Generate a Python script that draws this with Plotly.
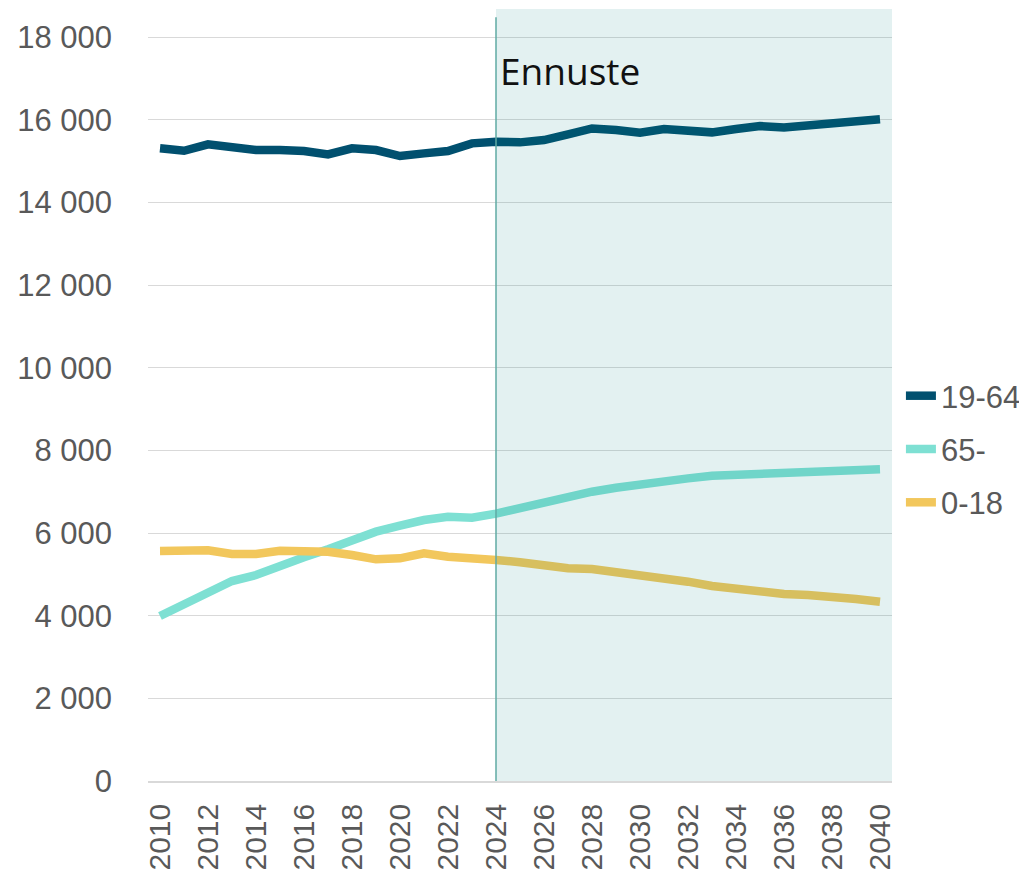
import plotly.graph_objects as go

years = list(range(2010, 2041))
age_19_64 = [15309, 15250, 15405, 15333, 15267, 15267, 15243, 15163, 15309, 15267,
             15122, 15187, 15243, 15429, 15469, 15453, 15509, 15645, 15790, 15751,
             15686, 15775, 15751, 15695, 15775, 15848, 15815, 15864, 15864, 15953, 16010]
age_65 = [3992, 4275, 4565, 4839, 4984, 5210, 5412, 5606, 5815, 6033,
          6178, 6315, 6396, 6371, 6470, 6600, 6734, 6896, 7000, 7097,
          7186, 7259, 7323, 7388, 7404, 7444, 7468, 7468, 7484, 7509, 7541]
age_0_18 = [5565, 5573, 5581, 5492, 5492, 5573, 5573, 5549, 5468, 5364,
            5388, 5509, 5428, 5364, 5347, 5295, 5210, 5146, 5129, 5065,
            5000, 4904, 4823, 4718, 4638, 4556, 4524, 4500, 4476, 4403, 4338]
forecast_start = 2024
forecast_label = "Ennuste"
x_ticks = list(range(2010, 2041, 2))
y_ticks = list(range(0, 18001, 2000))

series = [
    ("19-64", age_19_64, "#01506F"),
    ("65-", age_65, "#7EE0D3"),
    ("0-18", age_0_18, "#F2C75C"),
]

SANS = "Liberation Sans, Arial, sans-serif"

fig = go.Figure()
for name, vals, col in series:
    fig.add_trace(go.Scatter(x=years, y=vals, name=name, mode="lines", legendgroup=name,
                             line=dict(color=col, width=8.5)))

# forecast shaded region (drawn above lines, translucent)
fig.add_shape(type="rect", xref="x", yref="paper", x0=forecast_start, x1=2040.5,
              y0=0, y1=1, fillcolor="rgba(0,128,128,0.11)", line_width=0, layer="above")
fig.add_shape(type="line", xref="x", yref="y", x0=forecast_start, x1=forecast_start,
              y0=0, y1=18480, line=dict(color="#5FAAA3", width=1.5), layer="above")
fig.add_annotation(x=forecast_start, y=17180, xref="x", yref="y", text=forecast_label,
                   showarrow=False, xanchor="left", yanchor="middle", xshift=2,
                   font=dict(family="Open Sans, sans-serif", size=37, color="#111111"))

fig.update_layout(
    width=1027, height=882,
    margin=dict(l=140, r=143, t=1, b=109, autoexpand=False),
    plot_bgcolor="white", paper_bgcolor="white",
    separators=". ",
    font=dict(family=SANS, color="#595959", size=31),
    legend=dict(x=1.012, y=0.430, xanchor="left", yanchor="middle",
                font=dict(family=SANS, size=31, color="#595959"), itemwidth=30,
                tracegroupgap=10, bgcolor="rgba(0,0,0,0)"),
    showlegend=True,
)
fig.update_xaxes(range=[2009.5, 2040.5], tickvals=x_ticks, ticktext=[str(t) for t in x_ticks],
                 tickangle=-90, showgrid=False, zeroline=False, showline=True, automargin=False,
                 linecolor="#d9d9d9", linewidth=1.5, ticks="", ticklabelstandoff=9,
                 tickfont=dict(family=SANS, size=30, color="#595959"))
fig.update_yaxes(range=[0, 18680], tickvals=y_ticks, tickformat=",d", automargin=False,
                 showgrid=True, gridcolor="#d9d9d9", gridwidth=1.3, zeroline=False,
                 showline=False, ticks="", ticklabelstandoff=35,
                 tickfont=dict(family=SANS, size=31, color="#595959"))

fig.write_html("out.html")
